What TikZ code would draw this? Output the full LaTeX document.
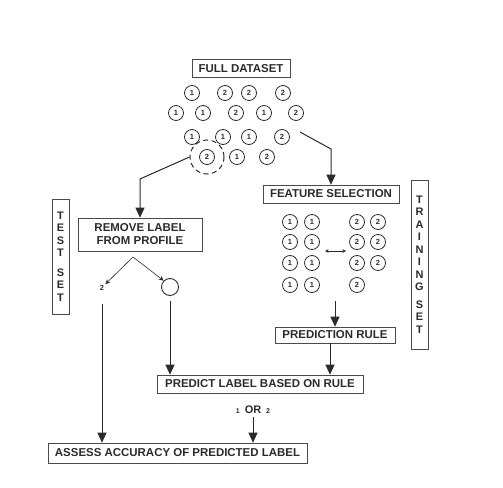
\documentclass[tikz,border=0pt]{standalone}
\usepackage{fontspec}
\setmainfont{Liberation Sans}
\usepackage{tikz}
\usetikzlibrary{arrows.meta, positioning, calc}
\definecolor{sketchink}{HTML}{2B2B2B}
\definecolor{sketchline}{HTML}{4A4A4A}

\begin{document}
\begin{tikzpicture}[
  x=1bp, y=-1bp,
  lbl/.style={draw=sketchline, line width=0.6pt, minimum height=18bp, inner sep=1bp, align=center, text=sketchink, font=\fontsize{11.5}{13}\selectfont\bfseries},
  side/.style={draw=sketchline, line width=0.6pt, minimum width=17bp, inner sep=1bp, align=center, text=sketchink, font=\fontsize{11}{12.5}\selectfont\bfseries},
  ball/.style={circle, draw=sketchink, line width=0.8pt, minimum size=15bp, inner sep=0pt, text=sketchink, font=\fontsize{7.5}{8}\selectfont\bfseries},
  arr/.style={-{Triangle[length=10bp, width=9bp]}, line width=1pt, sketchink},
  thin/.style={-{Stealth[length=5bp, width=4.5bp]}, line width=0.6pt, sketchink}
]
\useasboundingbox (0,0) rectangle (503,488);

% full dataset
\node[lbl, minimum width=98bp] (full) at (241,68.5) {FULL DATASET};
\node[ball] (a1) at (192,93) {1}; \node[ball] (a2) at (225,93) {2}; \node[ball] (a3) at (249,93) {2}; \node[ball] (a4) at (283,93) {2};
\node[ball] (b1) at (176,113) {1}; \node[ball] (b2) at (203,113) {1}; \node[ball] (b3) at (236,113) {2}; \node[ball] (b4) at (264,113) {1}; \node[ball] (b5) at (296,113) {2};
\node[ball] (c1) at (192,137) {1}; \node[ball] (c2) at (223,137) {1}; \node[ball] (c3) at (249,137) {1}; \node[ball] (c4) at (282,137) {2};
\node[ball] (d1) at (207,157) {2}; \node[ball] (d2) at (237,157) {1}; \node[ball] (d3) at (267,157) {2};
\node[circle, draw=sketchink, dash pattern=on 5bp off 3.5bp, line width=1pt, minimum size=34bp] (picked) at (207,157) {};

% test set side
\node[side, minimum height=115bp] (testset) at (60.5,256.5) {T\\E\\S\\T\\[7bp]S\\E\\T};
\node[lbl, minimum width=124bp, minimum height=33bp] (remove) at (140,234.5) {REMOVE LABEL\\FROM PROFILE};
\node[text=sketchink, font=\fontsize{7.5}{8}\selectfont\bfseries, inner sep=1bp] (kept) at (102,288) {2};
\node[circle, draw=sketchink, line width=0.9pt, minimum size=17bp, inner sep=0pt] (blank) at (170,287) {};

% training set side
\node[lbl, minimum width=136bp] (feature) at (331,194) {FEATURE SELECTION};
\node[side, minimum height=169bp] (trainset) at (419.5,264.5) {T\\R\\A\\I\\N\\I\\N\\G\\[5bp]S\\E\\T};
\node[ball] (p1) at (290,222) {1}; \node[ball] (p2) at (312,222) {1}; \node[ball] (q1) at (357,222) {2}; \node[ball] (q2) at (378,222) {2};
\node[ball] (p3) at (290,242) {1}; \node[ball] (p4) at (312,242) {1}; \node[ball] (q3) at (357,242) {2}; \node[ball] (q4) at (378,242) {2};
\node[ball] (p5) at (290,263) {1}; \node[ball] (p6) at (312,263) {1}; \node[ball] (q5) at (357,263) {2}; \node[ball] (q6) at (378,263) {2};
\node[ball] (p7) at (290,285) {1}; \node[ball] (p8) at (312,285) {1}; \node[ball] (q7) at (357,285) {2};
\node[lbl, minimum width=120bp, minimum height=16bp] (rule) at (335,335) {PREDICTION RULE};

% bottom
\node[lbl, minimum width=206bp] (predict) at (260,384) {PREDICT LABEL BASED ON RULE};
\node[text=sketchink, font=\fontsize{11}{12}\selectfont\bfseries, inner sep=1bp] (either) at (253,410) {{\fontsize{7}{8}\selectfont 1}\hspace{5bp}OR\hspace{5bp}{\fontsize{7}{8}\selectfont 2}};
\node[lbl, minimum width=259bp, minimum height=20bp] (assess) at (177.5,453) {ASSESS ACCURACY OF PREDICTED LABEL};

\coordinate (lbend) at (140,179);
\coordinate (rstart) at (300,132);
\coordinate (rbend) at (331,149);
\coordinate (gap1) at (325,251);
\coordinate (gap2) at (346,251);
\coordinate (gbot) at (335,301);
\coordinate (split) at (133,257);

\draw[arr] (picked.west) -- (lbend) -- (remove.north);
\draw[arr] (rstart) -- (rbend) -- (feature.north -| rbend);
\draw[{Stealth[length=3.5bp, width=3.5bp]}-{Stealth[length=3.5bp, width=3.5bp]}, line width=0.6pt, sketchink] (gap1) -- (gap2);
\draw[arr] (gbot) -- (rule.north -| gbot);
\draw[thin] (split) -- (kept.north east);
\draw[thin] (split) -- (blank.north west);
\draw[arr] ([yshift=-12bp]kept.south) -- (kept.south |- assess.north);
\draw[arr] ([yshift=-5bp]blank.south) -- (blank.south |- predict.north);
\draw[arr] (rule.south -| 330,0) -- (predict.north -| 330,0);
\draw[arr] ([yshift=-2bp]either.south) -- (either.south |- assess.north);
\end{tikzpicture}
\end{document}
